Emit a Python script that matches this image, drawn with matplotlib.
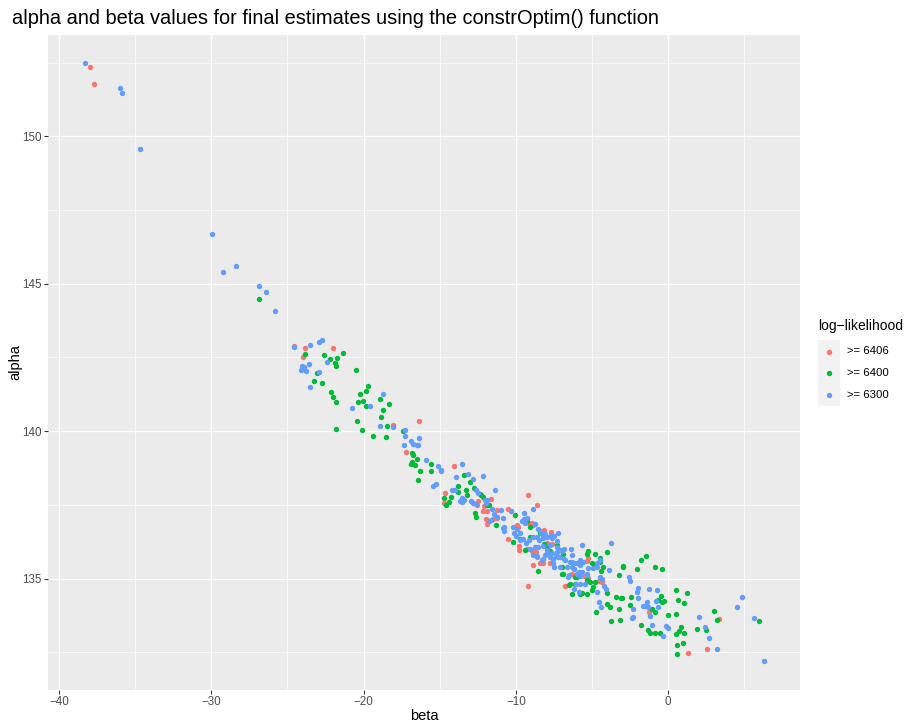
import matplotlib
matplotlib.use("Agg")
import matplotlib.pyplot as plt
from matplotlib.lines import Line2D
from matplotlib.patches import Rectangle

plt.rcParams['font.family'] = ['Liberation Sans', 'DejaVu Sans']

# legend groups
groups = [">= 6406", ">= 6400", ">= 6300"]
colors = ["#F8766D", "#00BA38", "#619CFF"]

# (beta, alpha) estimates
red_beta = [-37.94, -37.70, -24.60, -23.87, -22.03, -23.96, -18.05, -16.36, -17.24, -14.06,
            -14.64, -14.74, -12.49, -12.53, -11.66, -12.07, -11.92, -12.14, -11.26, -11.22,
            -11.48, -11.98, -11.92, -10.52, -10.31, -9.95, -9.23, -8.60, -9.87, -9.12,
            -8.94, -8.86, -8.33, -8.13, -7.69, -10.54, -9.78, -9.29, -8.96, -8.70,
            -7.98, -7.65, -8.41, -8.20, -8.86, -5.25, -6.34, -5.51, -5.25, -9.82,
            -9.20, -7.76, -6.78, -4.37, -4.52, -5.31, -4.48, -1.26, 1.30, 3.33, 2.55]
red_alpha = [152.34, 151.78, 142.89, 142.81, 142.81, 142.50, 140.21, 140.34, 139.28, 138.81,
             137.91, 137.57, 137.63, 137.51, 137.71, 137.46, 137.30, 137.30, 137.33, 137.07,
             137.03, 137.03, 136.85, 137.36, 137.30, 136.81, 137.83, 137.48, 136.76, 136.89,
             136.89, 136.81, 136.60, 136.64, 136.58, 136.34, 136.10, 136.02, 135.94, 135.91,
             136.19, 136.16, 135.54, 135.52, 135.45, 135.69, 135.14, 135.08, 135.03, 135.97,
             134.76, 135.52, 134.75, 134.90, 134.93, 135.59, 134.99, 133.86, 132.48, 133.63, 132.61]

green_beta = [-26.85, -23.83, -22.62, -22.23, -21.73, -21.35, -21.86, -21.82, -23.08, -20.52,
              -23.24, -22.73, -22.12, -21.99, -21.81, -19.69, -19.82, -20.26, -18.90, -18.35,
              -20.02, -20.39, -19.82, -18.73, -18.88, -20.44, -18.46, -21.83, -20.12, -17.39,
              -19.40, -18.55, -16.84, -16.76, -16.49, -16.82, -16.87, -16.62, -15.57, -16.30,
              -15.59, -13.39, -13.01, -16.41, -13.82, -12.77, -13.82, -13.26, -13.19, -14.26,
              -14.74, -14.37, -14.61, -12.29, -12.18, -12.38, -11.88, -11.75, -12.67, -12.62,
              -10.04, -11.28, -9.27, -9.29, -9.07, -8.41, -10.21, -9.73, -8.15, -7.94,
              -7.76, -7.32, -9.40, -9.07, -8.53, -6.99, -5.25, -5.35, -4.78, -5.02,
              -6.99, -6.12, -5.97, -6.88, -6.45, -6.12, -5.35, -5.13, -4.80, -4.96,
              -4.48, -6.93, -6.51, -6.34, -5.79, -5.31, -4.04, -4.85, -4.50, -4.30,
              -4.43, -2.99, -2.95, -3.21, -1.80, -1.46, -2.07, -0.87, -0.43, -5.02,
              -5.68, -4.04, -3.45, -3.10, -3.01, -2.44, -0.48, 0.49, 1.25, -0.69,
              -0.26, -0.43, 0.64, 1.05, -4.04, -3.82, -3.23, -2.51, -4.74, -1.04,
              -0.89, -0.04, 0.51, -3.76, -3.17, -1.79, -1.30, -1.19, -0.87, -0.54,
              0.82, 0.73, 0.51, 1.06, 0.57, 0.99, 0.55, 3.03, 3.22, 5.98,
              1.89, 2.46]
green_alpha = [144.47, 142.62, 142.60, 142.45, 142.48, 142.64, 142.31, 142.22, 141.98, 142.07,
               141.70, 141.64, 141.34, 141.16, 141.00, 141.54, 141.38, 141.26, 141.10, 140.93,
               141.02, 140.98, 140.85, 140.71, 140.48, 140.35, 140.18, 140.09, 140.05, 140.00,
               139.83, 139.80, 139.25, 139.20, 139.06, 138.96, 138.89, 138.85, 138.89, 138.65,
               138.64, 138.50, 138.27, 138.35, 138.15, 138.07, 137.95, 138.00, 137.85, 137.78,
               137.72, 137.60, 137.49, 137.83, 137.77, 137.87, 137.49, 137.49, 137.21, 137.08,
               137.16, 136.83, 137.02, 136.94, 136.76, 136.53, 136.25, 136.34, 136.18, 136.03,
               135.95, 136.13, 135.97, 136.40, 135.26, 135.38, 135.94, 135.83, 135.83, 135.52,
               135.17, 135.04, 135.06, 135.83, 134.83, 134.83, 134.95, 134.90, 134.87, 134.72,
               135.69, 135.15, 134.79, 134.48, 134.47, 134.47, 135.91, 135.45, 135.57, 135.40,
               135.26, 135.42, 135.38, 135.11, 135.62, 135.75, 135.33, 135.40, 135.33, 134.60,
               134.50, 134.52, 134.36, 134.33, 134.34, 134.36, 134.42, 134.61, 134.52, 134.28,
               134.25, 134.19, 134.26, 134.17, 134.13, 134.05, 133.97, 134.09, 133.86, 133.97,
               133.86, 133.75, 133.79, 133.56, 133.59, 133.42, 133.25, 133.14, 133.16, 133.14,
               133.36, 133.22, 133.12, 133.16, 132.75, 132.81, 132.44, 133.90, 133.58, 133.57,
               133.30, 133.25]

blue_beta = [-38.27, -36.01, -35.88, -34.70, -29.93, -29.23, -28.36, -26.85, -26.39, -25.80,
             -24.55, -23.52, -22.93, -22.75, -22.40, -23.61, -24.06, -23.89, -24.13, -23.78,
             -22.95, -23.50, -18.75, -19.58, -20.76, -18.09, -18.90, -17.28, -16.89, -16.74,
             -16.52, -17.33, -17.28, -16.34, -16.41, -15.88, -15.09, -14.90, -14.94, -13.54,
             -13.12, -13.91, -12.14, -12.84, -15.42, -15.25, -14.17, -14.00, -11.35, -12.64,
             -12.51, -13.56, -13.43, -13.67, -13.52, -12.95, -12.80, -12.64, -12.03, -11.96,
             -11.88, -11.59, -11.44, -11.79, -11.66, -10.83, -10.80, -10.17, -8.86, -10.31,
             -9.45, -9.46, -9.29, -9.38, -9.62, -10.83, -10.80, -10.10, -9.97, -9.95,
             -9.73, -9.73, -9.51, -9.33, -9.12, -8.86, -8.63, -8.46, -8.20, -9.07,
             -8.74, -8.53, -8.20, -7.94, -7.32, -6.99, -6.84, -8.86, -8.63, -8.24,
             -7.98, -7.76, -7.54, -7.50, -6.38, -5.68, -6.34, -7.10, -6.84, -5.79,
             -5.57, -6.01, -6.34, -4.69, -4.48, -7.10, -6.66, -6.18, -5.89, -5.25,
             -8.74, -8.53, -8.37, -8.09, -7.94, -7.71, -7.48, -7.26, -6.56, -6.49,
             -6.01, -5.79, -4.48, -4.37, -4.91, -4.69, -6.16, -5.83, -6.05, -5.79,
             -5.46, -3.76, -3.91, -2.58, -2.51, -4.22, -4.09, -4.65, -1.96, -2.00,
             -2.03, -1.25, -0.72, -1.41, -1.52, -1.63, -1.30, -1.19, -0.80, -0.65,
             -4.54, -4.41, -2.29, -2.40, -2.29, -1.04, -0.14, -0.04, -0.36, 4.85,
             4.54, 2.05, 5.63, 2.41, 2.70, 3.18, 6.27,
             -8.63, -8.30, -8.09, -7.32, -7.54, -7.39, -8.20, -7.65, -7.76, -7.32,
             -7.10, -7.65, -7.21, -6.78, -6.45, -6.12, -5.79, -6.34, -5.68, -5.35,
             -11.00, -11.26]
blue_alpha = [152.48, 151.65, 151.46, 149.56, 146.70, 145.41, 145.60, 144.92, 144.73, 144.07,
              142.85, 142.92, 143.01, 143.11, 142.35, 142.28, 142.21, 142.19, 142.07, 142.04,
              142.00, 141.49, 141.25, 140.85, 140.79, 140.15, 140.17, 139.83, 139.67, 139.58,
              139.53, 139.52, 140.04, 139.78, 139.52, 139.02, 138.83, 138.68, 138.66, 138.89,
              138.56, 138.44, 138.49, 138.37, 138.15, 138.20, 138.00, 138.00, 138.00, 138.00,
              137.90, 137.75, 137.66, 137.63, 137.60, 137.63, 137.55, 137.53, 137.66, 137.57,
              137.66, 137.37, 137.19, 136.97, 136.98, 137.05, 136.74, 136.76, 137.35, 137.28,
              137.21, 137.01, 137.06, 136.89, 136.95, 136.70, 136.61, 136.53, 136.44, 136.67,
              136.53, 136.31, 136.33, 136.21, 136.31, 136.40, 136.42, 136.31, 136.37, 135.99,
              136.08, 136.08, 136.10, 135.97, 136.27, 135.94, 135.99, 135.80, 135.72, 135.67,
              135.86, 135.72, 135.52, 135.38, 135.99, 136.14, 135.80, 135.74, 135.67, 135.63,
              135.57, 135.54, 135.57, 135.54, 135.63, 135.40, 135.38, 135.31, 135.23, 135.37,
              136.86, 136.67, 136.54, 136.52, 136.40, 136.48, 136.43, 136.54, 135.06, 135.11,
              135.17, 135.08, 135.06, 134.97, 135.35, 135.40, 134.64, 134.53, 134.82, 134.83,
              134.80, 136.19, 135.28, 135.04, 134.92, 134.75, 134.64, 134.55, 134.34, 134.69,
              134.55, 134.65, 134.61, 134.19, 134.07, 134.07, 134.02, 133.73, 134.25, 134.03,
              134.20, 134.05, 133.98, 133.65, 133.68, 133.41, 133.39, 133.33, 133.05, 134.36,
              134.05, 133.70, 133.65, 133.35, 133.00, 132.61, 132.21,
              135.75, 135.63, 135.80, 135.91, 135.66, 135.75, 136.44, 136.39, 136.14, 136.08,
              135.97, 135.86, 135.74, 135.63, 135.57, 135.52, 135.46, 135.40, 135.23, 135.17,
              137.33, 137.10]

W, H = 906, 726
fig = plt.figure(figsize=(W / 100, H / 100), dpi=100)
ax = fig.add_axes([48 / W, 1 - 690 / H, (800 - 48) / W, (690 - 35) / H])
ax.set_facecolor("#EBEBEB")
for s in ax.spines.values():
    s.set_visible(False)

series = [(red_beta, red_alpha), (green_beta, green_alpha), (blue_beta, blue_alpha)]
for (b, a), col in zip(series, colors):
    ax.scatter(b, a, s=15, color=col, linewidths=0, zorder=3)

ax.set_xlim(-40.72, 8.65)
ax.set_ylim(131.22, 153.44)
ax.set_xticks([-40, -30, -20, -10, 0])
ax.set_yticks([135, 140, 145, 150])
ax.set_xticks([-35, -25, -15, -5, 5], minor=True)
ax.set_yticks([132.5, 137.5, 142.5, 147.5, 152.5], minor=True)
ax.grid(which="major", color="white", linewidth=1.0)
ax.grid(which="minor", color="white", linewidth=0.5)
ax.set_axisbelow(True)
ax.tick_params(which="major", length=2.6, width=0.8, color="#333333",
               labelsize=8.4, labelcolor="#4D4D4D", pad=2)
ax.tick_params(which="minor", length=0)

fig.text(12 / W, 1 - 18 / H, "alpha and beta values for final estimates using the constrOptim() function",
         fontsize=14.4, ha="left", va="center")
fig.text(424 / W, 1 - 716 / H, "beta", fontsize=10.5, ha="center", va="center")
fig.text(15 / W, 1 - 362 / H, "alpha", fontsize=10.5, ha="center", va="center", rotation=90)

# legend
fig.text(818 / W, 1 - 326 / H, "log\u2212likelihood", fontsize=10.0, ha="left", va="center")
fig.add_artist(Rectangle((818 / W, 1 - 406 / H), 22 / W, 66 / H,
                         transform=fig.transFigure, facecolor="#F2F2F2", edgecolor="none"))
for i, (lab, col) in enumerate(zip(groups, colors)):
    yk = 1 - (351.5 + i * 21.7) / H
    fig.add_artist(Line2D([829 / W], [yk], marker="o", markersize=3.9, color=col,
                          markeredgewidth=0, linestyle="none", transform=fig.transFigure))
    fig.text(847 / W, yk, lab, fontsize=8.2, ha="left", va="center")

fig.savefig("out.png", dpi=100)
